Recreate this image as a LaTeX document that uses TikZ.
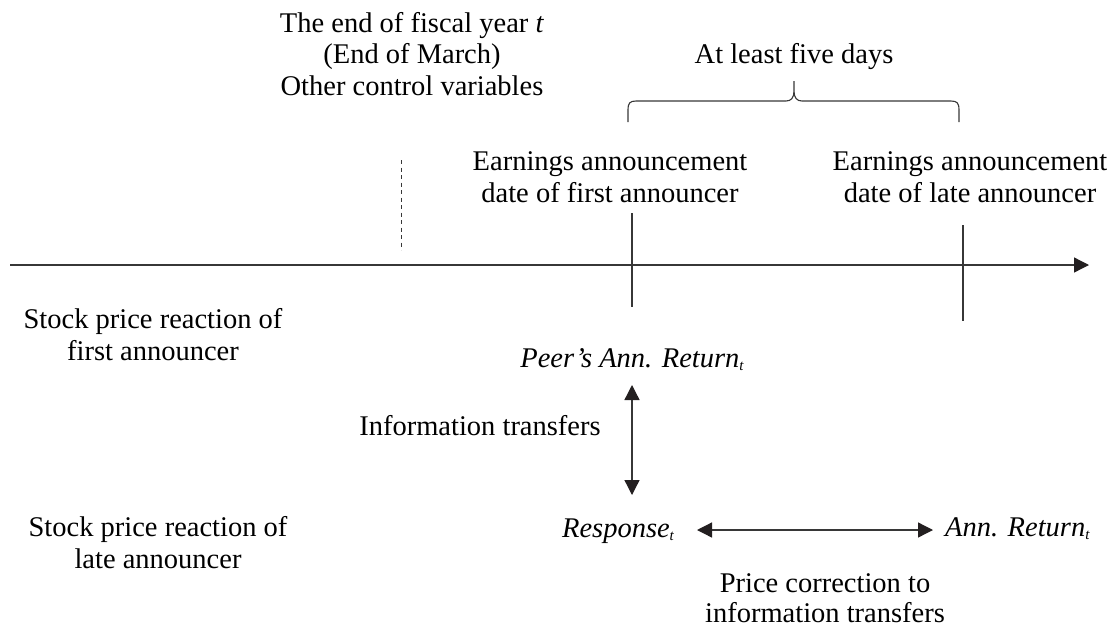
\documentclass[tikz,border=0pt]{standalone}
\usepackage{fontspec}
\setmainfont{Liberation Serif}
\usetikzlibrary{arrows.meta}
\definecolor{ln}{RGB}{55,55,55}
\definecolor{hd}{RGB}{35,31,32}
\newcommand{\sbt}{\raisebox{-0.25ex}{\fontsize{15}{15}\selectfont\itshape t}}
\tikzset{
  lbl/.style={anchor=base, inner sep=0pt, font=\fontsize{28.5}{31.5}\selectfont, text=black},
  ilbl/.style={lbl, font=\fontsize{28.5}{31.5}\selectfont\itshape},
  lne/.style={draw=ln, line width=1.3pt},
  dbl/.style={lne, {Triangle[length=15pt,width=15pt,color=hd]}-{Triangle[length=15pt,width=15pt,color=hd]}},
  onearrow/.style={lne, -{Triangle[length=15pt,width=15pt,color=hd]}}
}
\begin{document}
\begin{tikzpicture}[x=1pt,y=-1pt]
\useasboundingbox (0,0) rectangle (1117,627);
% top text
\node[lbl] (fy1) at (412,32) {The end of fiscal year \textit{t}};
\node[lbl] (fy2) at (412,63) {(End of March)};
\node[lbl] (fy3) at (412,95) {Other control variables};
\node[lbl] (five) at (794,63) {At least five days};
% announcement labels
\node[lbl] (ea1a) at (610,170) {Earnings announcement};
\node[lbl] (ea1b) at (610,202) {date of first announcer};
\node[lbl] (ea2a) at (970,170) {Earnings announcement};
\node[lbl] (ea2b) at (970,202) {date of late announcer};
% left labels
\node[lbl] (sp1a) at (153,328) {Stock price reaction of};
\node[lbl] (sp1b) at (153,360) {first announcer};
\node[lbl] (sp2a) at (158,536) {Stock price reaction of};
\node[lbl] (sp2b) at (158,568) {late announcer};
% returns
\node[ilbl] (peer) at (632,367) {Peer's Ann. Return\sbt};
\node[lbl] (info) at (480,435) {Information transfers};
\node[ilbl] (resp) at (618,537) {Response\sbt};
\node[ilbl, anchor=base west] (annret) at (945,536) {Ann. Return\sbt};
\node[lbl] (pc1) at (825,592) {Price correction to};
\node[lbl] (pc2) at (825,622) {information transfers};
% coordinates
\coordinate (axs) at (10,265);
\coordinate (axe) at (1089,265);
\coordinate (ds) at (401,160);
\coordinate (de) at (401,250);
\coordinate (t1s) at (632,213);
\coordinate (t1e) at (632,307);
\coordinate (t2s) at (963,225);
\coordinate (t2e) at (963,321);
\coordinate (va) at (632,385);
\coordinate (vb) at (632,495);
\coordinate (ha) at (697,530);
\coordinate (hb) at (933,530);
% axis and ticks
\draw[onearrow] (axs) -- (axe);
\draw[lne, line width=1pt, dash pattern=on 4pt off 3.5pt] (ds) -- (de);
\draw[lne] (t1s) -- (t1e);
\draw[lne] (t2s) -- (t2e);
% brace
\draw[lne, line width=1.1pt] (628,122) -- (628,110) .. controls (628,103) and (630,101) .. (636,101) -- (786,101)
  .. controls (791,101) and (794,98) .. (794,91) -- (794,81) -- (794,91)
  .. controls (794,98) and (797,101) .. (802,101) -- (951,101)
  .. controls (957,101) and (959,103) .. (959,110) -- (959,122);
% arrows
\draw[dbl] (va) -- (vb);
\draw[dbl] (ha) -- (hb);
\end{tikzpicture}
\end{document}
